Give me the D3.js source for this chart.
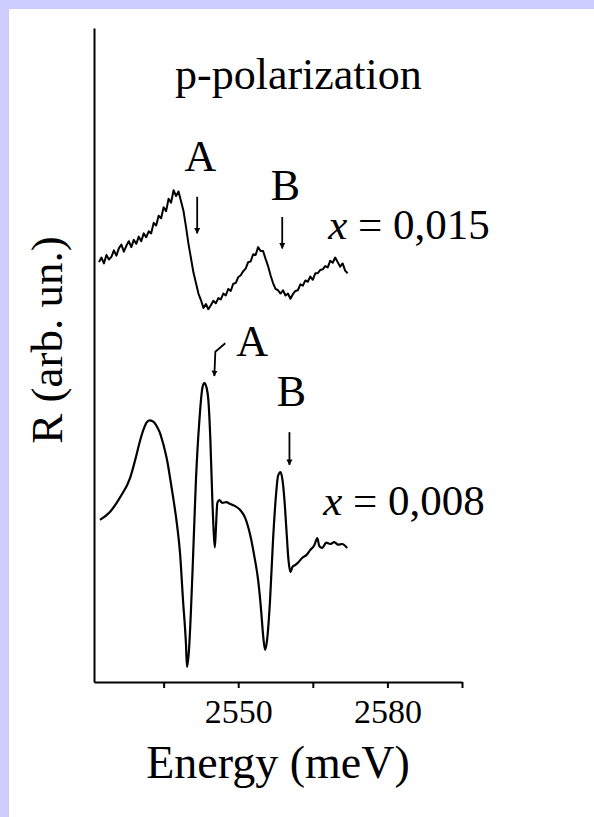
<!DOCTYPE html>
<html>
<head>
<meta charset="utf-8">
<script src="https://cdn.jsdelivr.net/npm/d3@7"></script>
<style>
  body { margin: 0; background: #ccccff; }
  svg { display: block; }
  text { font-family: "Liberation Serif", "Times New Roman", serif; fill: #000; }
</style>
</head>
<body>
<script>
// energia (meV) y reflectancia (unidades arbitrarias) para x = 0,015
const energyTop = [
  2522.0, 2522.5, 2523.0, 2523.5, 2524.0, 2524.5, 2525.0, 2525.5, 2526.0, 2526.5,
  2527.0, 2527.5, 2528.0, 2528.5, 2529.0, 2529.5, 2530.0, 2530.5, 2531.0, 2531.5,
  2532.0, 2532.5, 2533.0, 2533.5, 2534.0, 2534.5, 2535.0, 2535.5, 2536.0, 2536.5,
  2537.0, 2537.5, 2538.0, 2538.5, 2539.0, 2539.5, 2540.0, 2540.5, 2541.0, 2541.5,
  2542.0, 2542.5, 2543.0, 2543.5, 2544.0, 2544.5, 2545.0, 2545.5, 2546.0, 2546.5,
  2547.0, 2547.5, 2548.0, 2548.5, 2549.0, 2549.5, 2550.0, 2550.5, 2551.0, 2551.5,
  2552.0, 2552.5, 2553.0, 2553.5, 2554.0, 2554.5, 2555.0, 2555.5, 2556.0, 2556.5,
  2557.0, 2557.5, 2558.0, 2558.5, 2559.0, 2559.5, 2560.0, 2560.5, 2561.0, 2561.5,
  2562.0, 2562.5, 2563.0, 2563.5, 2564.0, 2564.5, 2565.0, 2565.5, 2566.0, 2566.5,
  2567.0, 2567.5, 2568.0, 2568.5, 2569.0, 2569.5, 2570.0, 2570.5, 2571.0, 2571.5,
  2572.0
];
const reflTop = [
  64.2, 64.9, 64.0, 65.3, 64.6, 65.0, 66.0, 65.2, 66.3, 66.9,
  65.8, 66.7, 67.4, 66.5, 67.6, 67.0, 68.1, 67.4, 68.6, 68.0,
  68.9, 68.6, 70.2, 69.8, 71.3, 70.9, 72.6, 72.0, 73.9, 73.3,
  75.2, 74.3, 75.0, 73.5, 72.0, 69.6, 67.0, 64.8, 62.6, 61.0,
  59.4, 58.4, 57.2, 57.8, 57.0, 57.6, 58.3, 57.9, 58.7, 58.5,
  59.4, 59.1, 60.1, 59.8, 60.9, 61.0, 61.9, 62.2, 62.8, 63.2,
  64.2, 64.3, 65.4, 65.3, 66.5, 65.9, 65.9, 64.7, 63.6, 62.2,
  61.0, 60.1, 59.9, 59.4, 59.9, 59.1, 59.4, 58.6, 59.3, 59.8,
  59.9, 60.8, 60.6, 61.4, 61.2, 62.0, 61.5, 62.5, 62.5, 63.0,
  63.1, 63.6, 63.4, 64.4, 64.1, 64.9, 64.2, 63.5, 64.0, 62.9,
  62.5
];

// energia (meV) y reflectancia para x = 0,008
const energyBottom = [
  2522.2, 2524.2, 2526.3, 2528.3, 2529.3, 2530.3, 2531.0, 2531.7, 2532.2, 2532.7,
  2533.2, 2533.7, 2534.2, 2534.7, 2535.2, 2535.7, 2536.3, 2536.9, 2537.7, 2538.3,
  2538.9, 2539.5, 2539.7, 2540.1, 2540.5, 2540.9, 2541.5, 2542.2, 2542.8, 2543.2,
  2543.6, 2544.0, 2544.4, 2544.8, 2545.1, 2545.3, 2545.5, 2545.8, 2546.2, 2546.8,
  2547.6, 2548.4, 2549.4, 2550.4, 2551.4, 2552.4, 2553.2, 2554.0, 2554.6, 2555.0,
  2555.4, 2555.8, 2556.4, 2557.0, 2557.6, 2558.0, 2558.5, 2558.9, 2559.3, 2559.7,
  2560.1, 2560.5, 2560.9, 2561.5, 2562.1, 2562.9, 2563.7, 2564.5, 2565.3, 2565.9,
  2566.3, 2566.9, 2567.7, 2568.5, 2569.3, 2570.1, 2570.9, 2571.9
];
const reflBottom = [
  24.8, 26.0, 28.3, 31.3, 34.0, 37.0, 38.7, 39.8, 40.0, 39.9,
  39.6, 39.0, 38.2, 37.0, 35.6, 33.9, 31.2, 28.3, 24.0, 19.7,
  12.5, 5.7, 2.3, 4.9, 11.0, 18.7, 30.9, 40.1, 45.0, 45.7,
  45.1, 43.1, 37.0, 27.8, 22.5, 20.6, 23.2, 27.4, 27.8, 27.4,
  27.5, 27.2, 26.9, 26.3, 25.1, 22.5, 19.4, 15.6, 11.0, 7.2,
  4.9, 6.4, 12.5, 21.7, 28.6, 31.5, 32.1, 30.9, 27.8, 23.2,
  18.7, 16.8, 17.6, 17.9, 18.3, 19.0, 19.4, 20.2, 20.9, 22.0,
  20.8, 20.5, 21.3, 21.1, 21.4, 21.0, 21.1, 20.5
];

const tickValues = [2535, 2550, 2565, 2580, 2595];
const tickLabels = ["", "2550", "", "2580", ""];

// letras A / B: [energia, R, texto]
const peakLabels = [
  [2542.4, 78.1, "A"], [2559.5, 73.7, "B"],
  [2552.8, 49.8, "A"], [2560.7, 42.2, "B"]
];
// flechas: lista de puntos [energia, R]
const arrows = [
  [[2541.75, 74.2], [2541.75, 68.6]],
  [[2558.85, 71.1], [2558.85, 66.3]],
  [[2547.4, 51.8], [2545.4, 50.5], [2545.2, 46.8]],
  [[2560.3, 38.2], [2560.3, 33.2]]
];
const seriesLabels = [[2568.1, 67.7, "0,015"], [2567.1, 25.5, "0,008"]];

let W = 594, H = 817;
let svg = d3.select("body").append("svg")
    .attr("width", W)
    .attr("height", H);

// fondo blanco dentro del marco lila
svg.append("rect")
    .attr("x", 9).attr("y", 9)
    .attr("width", W - 9).attr("height", H - 9)
    .attr("fill", "#fff");

let x = d3.scaleLinear().domain([2521, 2595]).range([94, 462]);
let y = d3.scaleLinear().domain([0, 100]).range([682, 28]);

// eje X
let xAxis = svg.append("g")
    .attr("transform", "translate(0,682)")
    .call(d3.axisBottom(x)
        .tickValues(tickValues)
        .tickFormat((d, i) => tickLabels[i])
        .tickSize(6)
        .tickSizeOuter(0));
xAxis.select(".domain").attr("stroke-width", 2);
xAxis.selectAll(".tick line").attr("stroke-width", 2);
xAxis.selectAll(".tick text")
    .attr("y", 41).attr("dy", 0)
    .style("font-family", "'Liberation Serif', serif")
    .style("font-size", "34px");

// eje Y (solo la linea)
let yAxis = svg.append("g")
    .attr("transform", "translate(94,0)")
    .call(d3.axisLeft(y).tickValues([]).tickSizeOuter(0));
yAxis.select(".domain").attr("stroke-width", 2);

let line = d3.line().x(d => x(d[0])).y(d => y(d[1]));

svg.append("path")
    .datum(d3.zip(energyTop, reflTop))
    .attr("d", line)
    .attr("fill", "none")
    .attr("stroke", "#000")
    .attr("stroke-width", 2)
    .attr("stroke-linejoin", "round");

svg.append("path")
    .datum(d3.zip(energyBottom, reflBottom))
    .attr("d", line.curve(d3.curveMonotoneX))
    .attr("fill", "none")
    .attr("stroke", "#000")
    .attr("stroke-width", 2.2)
    .attr("stroke-linejoin", "round");

// flechas
svg.append("defs").append("marker")
    .attr("id", "head")
    .attr("viewBox", "0 0 10 10")
    .attr("refX", 9).attr("refY", 5)
    .attr("markerWidth", 6).attr("markerHeight", 9)
    .attr("markerUnits", "userSpaceOnUse")
    .attr("orient", "auto")
    .append("path")
    .attr("d", "M0,0 L10,5 L0,10 Z")
    .attr("fill", "#000");

svg.selectAll(".arrow")
    .data(arrows)
    .enter().append("path")
    .attr("class", "arrow")
    .attr("d", d => d3.line()(d.map(p => [x(p[0]), y(p[1])])))
    .attr("fill", "none")
    .attr("stroke", "#000")
    .attr("stroke-width", 1.8)
    .attr("marker-end", "url(#head)");

svg.selectAll(".peak")
    .data(peakLabels)
    .enter().append("text")
    .attr("class", "peak")
    .attr("x", d => x(d[0]))
    .attr("y", d => y(d[1]))
    .attr("text-anchor", "middle")
    .style("font-size", "44px")
    .text(d => d[2]);

let sl = svg.selectAll(".series")
    .data(seriesLabels)
    .enter().append("text")
    .attr("class", "series")
    .attr("x", d => x(d[0]))
    .attr("y", d => y(d[1]))
    .style("font-size", "43px");
sl.append("tspan").style("font-style", "italic").text("x");
sl.append("tspan").text(d => " = " + d[2]);

svg.append("text")
    .attr("x", 175).attr("y", 89)
    .style("font-size", "44px")
    .text("p-polarization");

svg.append("text")
    .attr("x", 278).attr("y", 778)
    .attr("text-anchor", "middle")
    .style("font-size", "46px")
    .text("Energy (meV)");

svg.append("text")
    .attr("transform", "translate(62,340) rotate(-90)")
    .attr("text-anchor", "middle")
    .style("font-size", "45px")
    .text("R (arb. un.)");
</script>
</body>
</html>
